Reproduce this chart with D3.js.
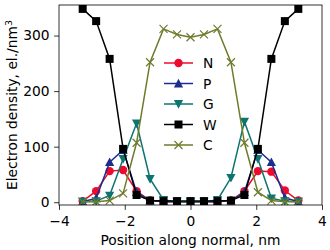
<!DOCTYPE html>
<html><head><meta charset="utf-8">
<script src="https://cdn.jsdelivr.net/npm/d3@7"></script>
<style>body{margin:0;background:#fff}svg{display:block}text{font-family:"DejaVu Sans",sans-serif}</style>
</head><body>
<svg id="c" width="330" height="250"></svg>
<script>
const positions = [-3.28, -2.87, -2.46, -2.05, -1.64, -1.23, -0.82, -0.41, 0, 0.41, 0.82, 1.23, 1.64, 2.05, 2.46, 2.87, 3.28];
const seriesN = [2, 20, 56, 58, 20, 3, 1, 1, 1, 1, 1, 3, 20, 56, 55, 21, 3];
const seriesP = [1, 7, 72, 94, 18, 3, 1, 1, 1, 1, 1, 3, 18, 94, 72, 8, 1];
const seriesG = [1, 2, 12, 78, 142, 42, 4, 1, 1, 1, 4, 44, 145, 78, 7, 2, 1];
const seriesW = [348, 326, 258, 96, 13, 3, 2, 2, 2, 2, 2, 3, 13, 96, 258, 326, 348];
const seriesC = [1, 1, 3, 16, 107, 252, 312, 302, 297, 302, 312, 252, 107, 18, 3, 1, 1];
const seriesNames = ["N", "P", "G", "W", "C"];
const xTicks = [-4, -2, 0, 2, 4];
const yTicks = [0, 100, 200, 300];

const styles = {
  N: {color: "#ee0a2e", marker: "circle"},
  P: {color: "#1c2d8e", marker: "tri-up"},
  G: {color: "#0e7470", marker: "tri-down"},
  W: {color: "#000000", marker: "square"},
  C: {color: "#6f7a2c", marker: "x"}
};
const data = {N: seriesN, P: seriesP, G: seriesG, W: seriesW, C: seriesC};

const svg = d3.select("#c");
const L = 59, R = 322, T = 5, B = 205;
const FS = 13.8;
const x = d3.scaleLinear().domain([-4, 4]).range([L, R]);
const y = d3.scaleLinear().domain([-5, 355]).range([B, T]);

const plot = svg.append("g");
plot.append("defs").append("clipPath").attr("id","clip").append("rect")
  .attr("x", L).attr("y", T).attr("width", R-L).attr("height", B-T);

function drawMarker(g, type, cx, cy, color) {
  const s = 4;
  if (type === "circle") {
    g.append("circle").attr("cx", cx).attr("cy", cy).attr("r", 4.2).attr("fill", color);
  } else if (type === "square") {
    g.append("rect").attr("x", cx-4).attr("y", cy-4).attr("width", 8).attr("height", 8).attr("fill", color);
  } else if (type === "tri-up") {
    g.append("path").attr("d", `M${cx},${cy-4.8}L${cx+4.6},${cy+3.9}L${cx-4.6},${cy+3.9}Z`).attr("fill", color);
  } else if (type === "tri-down") {
    g.append("path").attr("d", `M${cx},${cy+4.8}L${cx+4.6},${cy-3.9}L${cx-4.6},${cy-3.9}Z`).attr("fill", color);
  } else if (type === "x") {
    g.append("path").attr("d", `M${cx-s},${cy-s}L${cx+s},${cy+s}M${cx-s},${cy+s}L${cx+s},${cy-s}`)
      .attr("stroke", color).attr("stroke-width", 1.2).attr("fill","none");
  }
}

const line = d3.line().x(d => x(d[0])).y(d => y(d[1]));
const clipG = plot.append("g").attr("clip-path", "url(#clip)");
seriesNames.forEach(name => {
  const pts = positions.map((p, i) => [p, data[name][i]]);
  const g = clipG.append("g");
  g.append("path").attr("d", line(pts)).attr("fill", "none")
    .attr("stroke", styles[name].color).attr("stroke-width", 1.5);
  pts.forEach(p => drawMarker(g, styles[name].marker, x(p[0]), y(p[1]), styles[name].color));
});

// axes
const xAxis = d3.axisBottom(x).tickValues(xTicks).tickSize(4.9).tickPadding(6.8)
  .tickFormat(d => d < 0 ? "\u2212" + Math.abs(d) : d);
const yAxis = d3.axisLeft(y).tickValues(yTicks).tickSize(4.9).tickPadding(4.5);
const gx = svg.append("g").attr("transform", `translate(0,${B})`).call(xAxis);
const gy = svg.append("g").attr("transform", `translate(${L},0)`).call(yAxis);
[gx, gy].forEach(g => {
  g.select(".domain").remove();
  g.selectAll("line").attr("stroke", "#000").attr("stroke-width", 0.8);
  g.selectAll("text").attr("font-size", FS).attr("fill", "#000").attr("font-family", "DejaVu Sans");
});
svg.append("rect").attr("x", L).attr("y", T).attr("width", R-L).attr("height", B-T)
  .attr("fill", "none").attr("stroke", "#000").attr("stroke-width", 0.8);

// axis labels
svg.append("text").attr("x", (L+R)/2).attr("y", 245).attr("text-anchor", "middle")
  .attr("font-size", FS).text("Position along normal, nm");
svg.append("text").attr("transform", `translate(17,${(T+B)/2}) rotate(-90)`).attr("text-anchor", "middle")
  .attr("font-size", FS).html('Electron density, el./nm<tspan dy="-5" font-size="9.5">3</tspan>');

// legend
const leg = svg.append("g");
const legY0 = 63, legDy = 20.5;
seriesNames.forEach((name, i) => {
  const ly = legY0 + i * legDy;
  leg.append("line").attr("x1", 164).attr("x2", 193).attr("y1", ly).attr("y2", ly)
    .attr("stroke", styles[name].color).attr("stroke-width", 1.5);
  drawMarker(leg, styles[name].marker, 178.5, ly, styles[name].color);
  leg.append("text").attr("x", 203).attr("y", ly + 5).attr("font-size", FS).text(name);
});
</script>
</body></html>
